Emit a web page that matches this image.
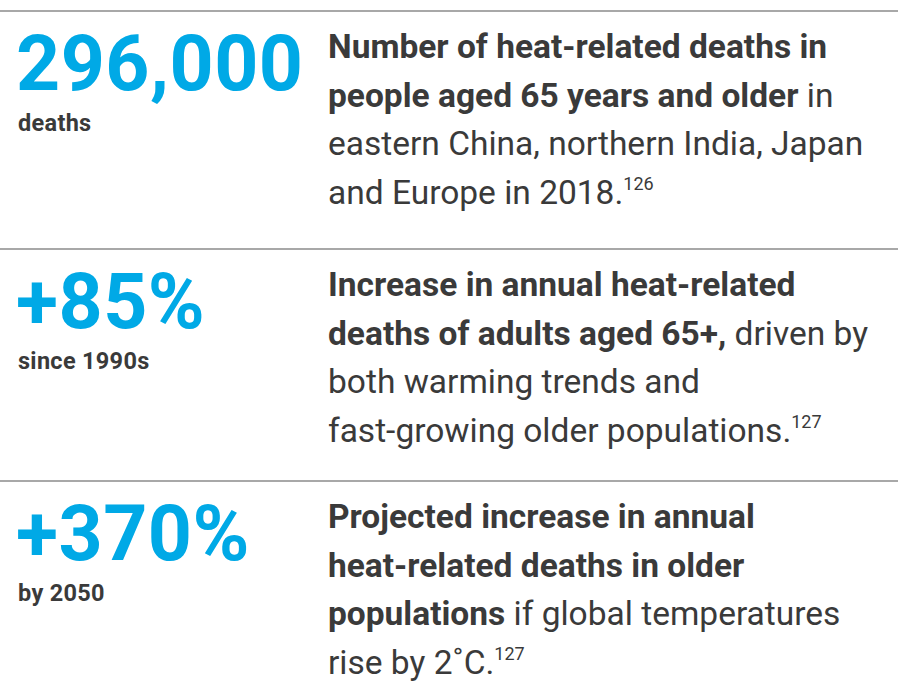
<!DOCTYPE html>
<html><head><meta charset="utf-8">
<script src="https://cdn.jsdelivr.net/npm/chart.js@4"></script>
<style>
body{margin:0;width:917px;height:692px;background:#fff;font-family:Roboto,"Noto Sans",sans-serif;color:#3a3a3a;overflow:hidden;position:relative}
.rule{position:absolute;left:0;width:898px;height:2px;background:#a8a8a8}
.big{position:absolute;left:16px;font-size:77px;font-weight:700;color:#00a9e6;line-height:1;letter-spacing:0.5px}
.sub{position:absolute;left:18px;font-size:23.5px;font-weight:700;color:#3a3a3a;letter-spacing:0.3px}
.txt{position:absolute;left:328px;width:590px;font-size:33.5px;line-height:48.5px}
.txt b{font-weight:700}
sup{font-size:18px;vertical-align:14px;line-height:0}
</style></head><body>
<div id="root"></div>
<script>
const figures = ['296,000', '+85%', '+370%'];
const subLabels = ['deaths', 'since 1990s', 'by 2050'];
const refs = ['126', '127', '127'];
const rowTops = [10, 248, 480];
// '|' marks the end of the bold part
const textLines = [
  ['Number of heat-related deaths in', 'people aged 65 years and older| in', 'eastern China, northern India, Japan', 'and Europe in 2018.'],
  ['Increase in annual heat-related', 'deaths of adults aged 65+,| driven by', 'both warming trends and', 'fast-growing older populations.'],
  ['Projected increase in annual', 'heat-related deaths in older', 'populations| if global temperatures', 'rise by 2˚C.']
];
const root = document.getElementById('root');
figures.forEach((f, i) => {
  const t = rowTops[i];
  let h = `<div class="rule" style="top:${t}px"></div>`;
  h += `<div class="big" style="top:${t + 16}px">${f}</div>`;
  h += `<div class="sub" style="top:${t + 99}px">${subLabels[i]}</div>`;
  let inBold = true, lines = [];
  textLines[i].forEach((ln, k) => {
    let s;
    if (inBold && ln.includes('|')) { const [a, b] = ln.split('|'); s = `<b>${a}</b>${b}`; inBold = false; }
    else if (inBold) s = `<b>${ln}</b>`;
    else s = ln;
    if (k === textLines[i].length - 1) s += `<sup>${refs[i]}</sup>`;
    lines.push(s);
  });
  h += `<div class="txt" style="top:${t + 13}px">${lines.join('<br>')}</div>`;
  root.insertAdjacentHTML('beforeend', h);
});
</script>
</body></html>
